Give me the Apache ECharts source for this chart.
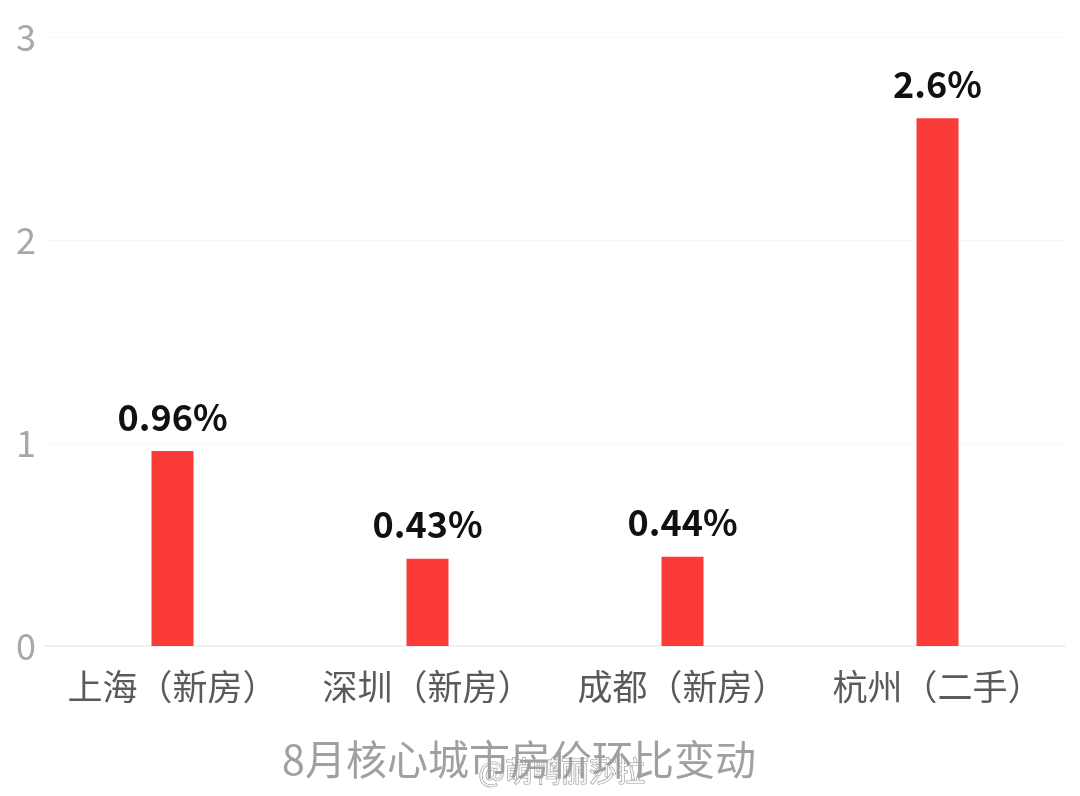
<!DOCTYPE html>
<html><head><meta charset="utf-8">
<script src="https://cdn.jsdelivr.net/npm/echarts@6/dist/echarts.min.js"></script>
<style>html,body{margin:0;padding:0;background:#fff}#c{width:1080px;height:796px}</style>
</head><body><div id="c"></div>
<script>
const categories = ['上海（新房）', '深圳（新房）', '成都（新房）', '杭州（二手）'];
const values = [0.96, 0.43, 0.44, 2.6];
const valueLabels = ['0.96%', '0.43%', '0.44%', '2.6%'];
const yTicks = [0, 1, 2, 3];
const title = '8月核心城市房价环比变动';
const watermark = '@萌鸭丽莎拉';

const chart = echarts.init(document.getElementById('c'));
const font = '"Noto Sans CJK SC","Noto Sans",sans-serif';
chart.setOption({
  backgroundColor: '#ffffff',
  animation: false,
  grid: { left: 45, right: 15, top: 37, bottom: 150, containLabel: false },
  title: {
    text: title, left: 514, top: 734, textAlign: 'center',
    textStyle: { fontFamily: font, fontSize: 41, fontWeight: 'normal', color: '#a0a0a0' }
  },
  graphic: [{
    type: 'text', left: 478, top: 757,
    style: { text: watermark, fontFamily: font, fontSize: 28, fill: 'rgba(255,255,255,0.85)', stroke: '#9a9a9a', lineWidth: 1.2 }
  }],
  xAxis: {
    type: 'category', data: categories,
    axisLine: { show: true, lineStyle: { color: '#f0f0f0', width: 2 } },
    axisTick: { show: false },
    axisLabel: { interval: 0, hideOverlap: false, fontFamily: font, fontSize: 35, color: '#5a5a5a', margin: 23 }
  },
  yAxis: {
    type: 'value', min: yTicks[0], max: yTicks[yTicks.length - 1], interval: 1,
    axisLine: { show: false }, axisTick: { show: false },
    splitLine: { show: true, lineStyle: { color: '#f7f7f7', width: 1 } },
    axisLabel: { fontFamily: font, fontSize: 36, color: '#a8a8a8', margin: 9, align: 'right' }
  },
  series: [{
    type: 'bar', data: values, barWidth: 42,
    itemStyle: { color: '#fb3b37' },
    label: {
      show: true, position: 'top', distance: 16,
      formatter: p => valueLabels[p.dataIndex],
      fontFamily: font, fontSize: 36, fontWeight: 'bold', color: '#111111'
    }
  }]
});
</script></body></html>
